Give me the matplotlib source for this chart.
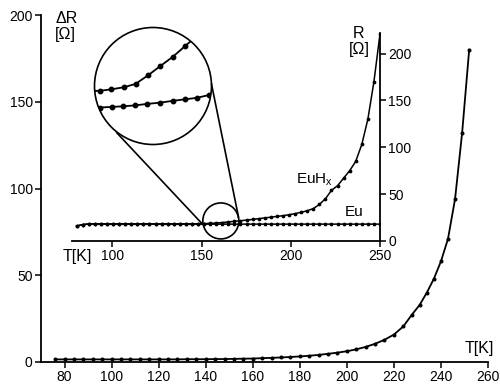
import numpy as np
import matplotlib.pyplot as plt
from matplotlib.patches import Circle

plt.rcParams['font.family'] = ['Liberation Sans', 'DejaVu Sans']
plt.rcParams['mathtext.fontset'] = 'custom'
plt.rcParams['mathtext.rm'] = 'Liberation Sans'

# main curve: delta R vs T
t_main = [76, 80, 84, 88, 92, 96, 100, 104, 108, 112, 116, 120, 124, 128, 132, 136,
          140, 144, 148, 152, 156, 160, 164, 168, 172, 176, 180, 184, 188, 192, 196,
          200, 204, 208, 212, 216, 220, 224, 227.5, 231, 234, 237, 240, 243, 246, 249, 252]
dr_main = [1.5, 1.5, 1.5, 1.5, 1.5, 1.5, 1.5, 1.5, 1.5, 1.5, 1.5, 1.5, 1.5, 1.5, 1.6, 1.6,
           1.6, 1.7, 1.7, 1.8, 1.9, 2.0, 2.2, 2.4, 2.6, 2.9, 3.2, 3.6, 4.1, 4.7, 5.4,
           6.2, 7.3, 8.7, 10.5, 12.8, 15.8, 20.5, 27, 33, 40, 48, 58, 71, 94, 132, 180]

# inset: R vs T for Eu and EuHx
t_ins = [80, 83.4, 86.8, 90.2, 93.6, 97, 100.4, 103.8, 107.2, 110.6, 114, 117.4, 120.8,
         124.2, 127.6, 131, 134.4, 137.8, 141.2, 144.6, 148, 151.4, 154.8, 158.2, 161.6,
         165, 168.4, 171.8, 175.2, 178.6, 182, 185.4, 188.8, 192.2, 195.6, 199, 202.4,
         205.8, 209.2, 212.6, 216, 219.4, 222.8, 226.2, 229.6, 233, 236.4, 239.8, 243.2,
         246.6, 250]
r_eu = [16, 17.5, 18, 18, 18, 18, 18, 18, 18, 18, 18, 18, 18,
        18, 18, 18, 18, 18, 18, 18, 18, 18, 18, 18, 18,
        18, 18, 18, 18, 18, 18, 18, 18, 18, 18, 18, 18,
        18, 18, 18, 18, 18, 18, 18, 18, 18, 18, 18, 18,
        18, 18]
r_euhx = [16, 17.5, 18.3, 18.3, 18.3, 18.3, 18.3, 18.3, 18.3, 18.3, 18.3, 18.3, 18.3,
          18.3, 18.3, 18.3, 18.3, 18.3, 18.3, 18.3, 18.3, 18.5, 18.8, 19.2, 19.7,
          20.3, 21, 21.6, 22.3, 23, 23.8, 24.6, 25.4, 26.2, 27, 28, 29.2,
          30.6, 32.3, 34.5, 39, 45, 54, 59, 67, 75, 85, 103, 130,
          170, 221]

# magnified view inside the big circle
zoom_t_hx = [150.0, 151.6, 153.6, 155.8, 157.8, 160.0, 162.0, 164.2, 166.3, 168.0]
zoom_r_hx = [19.8, 19.8, 20.3, 21.0, 22.1, 25.0, 27.9, 31.0, 34.5, 37.3]
zoom_t_eu = [150.0, 151.6, 153.7, 155.6, 157.7, 159.8, 162.0, 164.2, 166.3, 168.4, 170.4, 172.0]
zoom_r_eu = [14.2, 14.3, 14.5, 14.7, 15.0, 15.5, 15.9, 16.5, 17.0, 17.5, 18.4, 19.0]

fig = plt.figure(figsize=(5, 3.87), dpi=100)

# main axes
ax = fig.add_axes([0.082, 0.0646, 0.894, 0.8966])
ax.plot(t_main, dr_main, '-', color='black', lw=1.3, marker='o', ms=1.9)
ax.set_xlim(70, 260)
ax.set_ylim(0, 200)
ax.set_xticks([80, 100, 120, 140, 160, 180, 200, 220, 240, 260])
ax.set_yticks([0, 50, 100, 150, 200])
for s in ['top', 'right']:
    ax.spines[s].set_visible(False)
for s in ['left', 'bottom']:
    ax.spines[s].set_linewidth(1.3)
ax.tick_params(direction='out', length=4, width=1.1, labelsize=10, pad=2)
ax.patch.set_alpha(0)

# inset axes
ax2 = fig.add_axes([0.144, 0.3773, 0.616, 0.5375])
ax2.plot(t_ins, r_eu, '-', color='black', lw=1.1, marker='o', ms=1.7)
ax2.plot(t_ins, r_euhx, '-', color='black', lw=1.1, marker='o', ms=1.7)
ax2.set_xlim(77.4, 250)
ax2.set_ylim(0, 222)
ax2.set_xticks([100, 150, 200, 250])
ax2.set_yticks([0, 50, 100, 150, 200])
ax2.spines['top'].set_visible(False)
ax2.spines['left'].set_visible(False)
ax2.spines['right'].set_linewidth(1.3)
ax2.spines['bottom'].set_linewidth(1.3)
ax2.yaxis.tick_right()
ax2.tick_params(direction='out', length=4, width=1.1, labelsize=10, pad=2)
ax2.patch.set_alpha(0)

# magnified view
ax3 = fig.add_axes([(153 - 58.5) / 500, (387 - 86 - 58.5) / 387, 117 / 500, 117 / 387])
ax3.set_xlim(150.7, 170.9)
ax3.set_ylim(2.1, 40.7)
ax3.axis('off')
clip = Circle((0.5, 0.5), 0.5, transform=ax3.transAxes)
l1, = ax3.plot(zoom_t_hx, zoom_r_hx, '-', color='black', lw=1.3, marker='o', ms=3.2,
               markevery=slice(1, -1))
l2, = ax3.plot(zoom_t_eu, zoom_r_eu, '-', color='black', lw=1.3, marker='o', ms=3.2,
               markevery=slice(1, -1))
l1.set_clip_path(clip)
l2.set_clip_path(clip)

# overlay in pixel coords for circles and connector lines
ov = fig.add_axes([0, 0, 1, 1])
ov.set_xlim(0, 500)
ov.set_ylim(387, 0)
ov.axis('off')
fig.canvas.draw()
cx, cy = ax2.transData.transform((160.8, 21.4))
cy = 387 - cy
ov.add_patch(Circle((153, 86), 58.5, fill=False, lw=1.2, color='black'))
ov.add_patch(Circle((cx, cy), 18, fill=False, lw=1.2, color='black'))
ov.plot([116.7, 201.7], [132.7, 223.3], color='black', lw=1.2)
ov.plot([211.5, 238.5], [84, 217], color='black', lw=1.2)

# labels
fig.text(55 / 500, 1 - 11 / 387, 'ΔR\n[Ω]', ha='left', va='top', fontsize=11.5,
         linespacing=1.05)
fig.text(359 / 500, 1 - 26 / 387, 'R\n[Ω]', ha='center', va='top', fontsize=11.5,
         linespacing=1.05, multialignment='center')
fig.text(63 / 500, 1 - 249 / 387, 'T[K]', ha='left', va='top', fontsize=11.5)
fig.text(494 / 500, 1 - 356 / 387, 'T[K]', ha='right', va='bottom', fontsize=11.5)
fig.text(296 / 500, 1 - 183 / 387, r'EuH$_{\mathrm{x}}$', ha='left', va='baseline',
         fontsize=11)
fig.text(345 / 500, 1 - 216 / 387, 'Eu', ha='left', va='baseline', fontsize=11)

fig.savefig('out.png', dpi=100)
